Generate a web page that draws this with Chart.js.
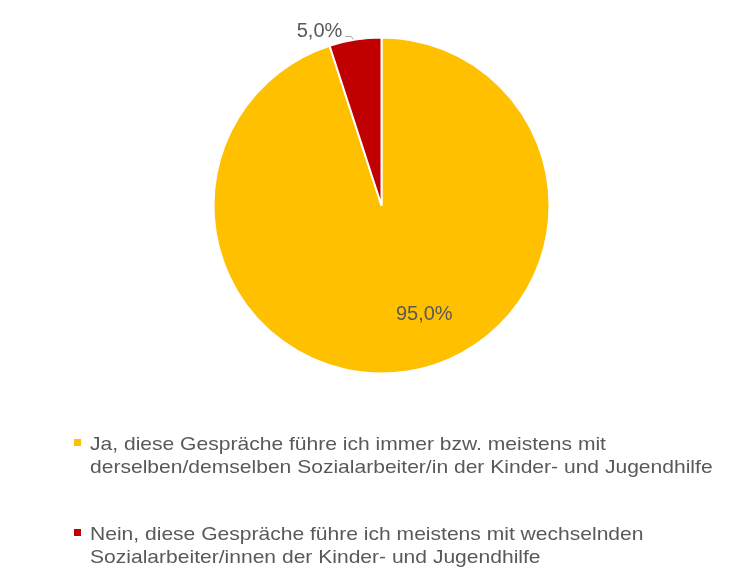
<!DOCTYPE html>
<html>
<head>
<meta charset="utf-8">
<script src="https://cdn.jsdelivr.net/npm/chart.js@4.4.0/dist/chart.umd.min.js"></script>
<style>
  html, body { margin: 0; padding: 0; background: #fff; }
  #wrap { width: 751px; height: 579px; }
</style>
</head>
<body>
<div id="wrap"><canvas id="pieChart" width="751" height="579"></canvas></div>
<script>
// values
const categories = [
  ['Ja, diese Gespräche führe ich immer bzw. meistens mit', 'derselben/demselben Sozialarbeiter/in der Kinder- und Jugendhilfe'],
  ['Nein, diese Gespräche führe ich meistens mit wechselnden', 'Sozialarbeiter/innen der Kinder- und Jugendhilfe']
];
const shares = [95.0, 5.0];
const sliceColors = ['#FFC000', '#C00000'];

const textColor = '#595959';
const font = '"Liberation Sans", Arial, sans-serif';

// percent labels; position given as angle (deg, from 12 o'clock clockwise) + radius fraction
const labelPlacement = [
  { angle: 158.6, r: 0.698 },
  { angle: -19.6, r: 1.1, leader: true }
];

const pieLabels = {
  id: 'pieLabels',
  afterDatasetsDraw(chart) {
    const ctx = chart.ctx;
    const meta = chart.getDatasetMeta(0);
    ctx.save();
    ctx.font = '20px ' + font;
    ctx.fillStyle = textColor;
    ctx.textAlign = 'center';
    ctx.textBaseline = 'middle';
    meta.data.forEach((arc, i) => {
      const p = labelPlacement[i];
      const a = (p.angle - 90) * Math.PI / 180;
      const x = arc.x + Math.cos(a) * arc.outerRadius * p.r;
      const y = arc.y + Math.sin(a) * arc.outerRadius * p.r;
      const txt = shares[i].toFixed(1).replace('.', ',') + '%';
      ctx.fillText(txt, x, y);
      if (p.leader) {
        const w = ctx.measureText(txt).width;
        ctx.strokeStyle = '#A6A6A6';
        ctx.lineWidth = 1;
        ctx.beginPath();
        ctx.moveTo(x + w / 2 + 3, Math.round(y + 5) + 0.5);
        ctx.lineTo(x + w / 2 + 9, Math.round(y + 5) + 0.5);
        ctx.lineTo(x + w / 2 + 11, Math.round(y + 8) + 0.5);
        ctx.stroke();
      }
    });
    ctx.restore();
  }
};

const sideLegend = {
  id: 'sideLegend',
  afterDraw(chart) {
    const ctx = chart.ctx;
    ctx.save();
    const tops = [450, 540];
    categories.forEach((lines, i) => {
      ctx.fillStyle = sliceColors[i];
      ctx.fillRect(74, tops[i] - 11, 7, 7);
      ctx.fillStyle = textColor;
      ctx.font = '19px ' + font;
      lines.forEach((ln, j) => {
        ctx.save();
        ctx.translate(90, tops[i] + j * 23);
        ctx.scale(1.108, 1);   // the original text is a bit wider
        ctx.fillText(ln, 0, 0);
        ctx.restore();
      });
    });
    ctx.restore();
  }
};

new Chart(document.getElementById('pieChart').getContext('2d'), {
  type: 'pie',
  data: {
    labels: categories,
    datasets: [{
      data: shares,
      backgroundColor: sliceColors,
      borderColor: '#ffffff',
      borderWidth: 2
    }]
  },
  options: {
    responsive: false,
    animation: false,
    radius: 168,
    layout: { padding: { left: 214.5, right: 202.5, top: 38.5, bottom: 206.5 } },
    plugins: {
      legend: { display: false },
      tooltip: { enabled: false }
    }
  },
  plugins: [pieLabels, sideLegend]
});
</script>
</body>
</html>
